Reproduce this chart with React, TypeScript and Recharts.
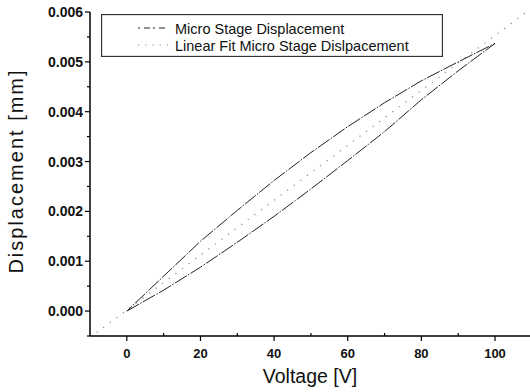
import React from 'react';
import { LineChart, Line, XAxis, YAxis } from 'recharts';

// voltage steps of the hysteresis loop (V)
const voltageUp = [0, 10, 20, 30, 40, 50, 60, 70, 80, 90, 100];
const voltageDown = [100, 90, 80, 70, 60, 50, 40, 30, 20, 10, 0];
// displacement (mm) while voltage rises (lower branch)
const dispUp = [0, 0.00042, 0.00088, 0.00138, 0.0019, 0.00245, 0.00302, 0.0036, 0.00424, 0.00482, 0.00537];
// displacement (mm) while voltage falls (upper branch)
const dispDown = [0.00537, 0.005, 0.00462, 0.00418, 0.0037, 0.00318, 0.00262, 0.00202, 0.0014, 0.0007, 0];

// linear fit end points
const fitVoltage = [-10, 110];
const fitDisp = [-0.00053, 0.00608];

const xTicks = [0, 10, 20, 30, 40, 50, 60, 70, 80, 90, 100];
const xLabelled = [0, 20, 40, 60, 80, 100];
const yTicks = [-0.0005, 0, 0.0005, 0.001, 0.0015, 0.002, 0.0025, 0.003, 0.0035, 0.004, 0.0045, 0.005, 0.0055, 0.006];
const yLabelled = [0, 0.001, 0.002, 0.003, 0.004, 0.005, 0.006];

const loopData = [
  ...voltageUp.map((v, i) => ({ v, d: dispUp[i] })),
  ...voltageDown.map((v, i) => ({ v, d: dispDown[i] })),
];
const fitData = fitVoltage.map((v, i) => ({ v, d: fitDisp[i] }));

const FONT = '"Liberation Sans", Arial, sans-serif';

const XTick = (props: any) => {
  const { x, y, payload } = props;
  const major = xLabelled.includes(payload.value);
  return (
    <g>
      <line x1={x} x2={x} y1={y} y2={major ? y + 5 : y - 3} stroke="#000" strokeWidth={1.2} />
      {major && (
        <text x={x} y={y + 22} textAnchor="middle" fontSize={13} fontWeight="bold" fontFamily={FONT} fill="#111">
          {payload.value}
        </text>
      )}
    </g>
  );
};

const YTick = (props: any) => {
  const { x, y, payload } = props;
  const major = yLabelled.some((t) => Math.abs(t - payload.value) < 1e-9);
  return (
    <g>
      <line x1={x} x2={x - (major ? 5 : 3)} y1={y} y2={y} stroke="#000" strokeWidth={1.2} />
      {major && (
        <text x={x - 7} y={y} dy="0.36em" textAnchor="end" fontSize={14} fontWeight="bold" fontFamily={FONT} fill="#111">
          {payload.value.toFixed(3)}
        </text>
      )}
    </g>
  );
};

function LegendBox() {
  return (
    <svg width={342} height={43} style={{ position: 'absolute', left: 101, top: 14, display: 'block' }}>
      <rect x={0.5} y={0.5} width={341} height={42} fill="#fff" stroke="#333" strokeWidth={1.3} />
      <line x1={37} x2={67} y1={14} y2={14} stroke="#222" strokeWidth={1} strokeDasharray="2 4 6 3" />
      <text x={74} y={20} fontSize={14.5} fontFamily={FONT} fill="#111">Micro Stage Displacement</text>
      <line x1={37} x2={67} y1={31} y2={31} stroke="#888" strokeWidth={1.2} strokeDasharray="1.2 6" />
      <text x={74} y={36.5} fontSize={14.5} fontFamily={FONT} fill="#111">Linear Fit Micro Stage Dislpacement</text>
    </svg>
  );
}

export default function App() {
  return (
    <div style={{ position: 'absolute', left: 0, top: 0, width: 530, height: 392, background: '#fff' }}>
      <LineChart width={530} height={392} margin={{ top: 12, right: 0, bottom: 0, left: 0 }}>
        <XAxis
          dataKey="v"
          type="number"
          domain={[-10, 109.5]}
          allowDataOverflow
          ticks={xTicks}
          interval={0}
          height={56}
          tickSize={0}
          tickMargin={0}
          tickLine={false}
          tick={<XTick />}
          axisLine={{ stroke: '#000', strokeWidth: 1.5 }}
          label={{
            content: () => (
              <text x={310} y={383} textAnchor="middle" fontSize={19.5} fontFamily={FONT} fill="#111">
                Voltage [V]
              </text>
            ),
          }}
        />
        <YAxis
          dataKey="d"
          type="number"
          domain={[-0.0005, 0.006]}
          allowDataOverflow
          ticks={yTicks}
          interval={0}
          width={90}
          tickSize={0}
          tickMargin={0}
          tickLine={false}
          tick={<YTick />}
          axisLine={{ stroke: '#000', strokeWidth: 1.5 }}
          label={{
            content: () => (
              <text
                x={23}
                y={171}
                transform="rotate(-90, 23, 171)"
                textAnchor="middle"
                fontSize={20}
                letterSpacing={2}
                fontFamily={FONT}
                fill="#111"
              >
                Displacement [mm]
              </text>
            ),
          }}
        />
        <Line
          data={fitData}
          dataKey="d"
          type="linear"
          stroke="#888"
          strokeWidth={1.2}
          strokeDasharray="1.2 7"
          dot={false}
          isAnimationActive={false}
        />
        <Line
          data={loopData}
          dataKey="d"
          type="linear"
          stroke="#222"
          strokeWidth={1}
          strokeDasharray="14 1.5 1.5 1.5"
          dot={false}
          isAnimationActive={false}
        />
      </LineChart>
      <LegendBox />
    </div>
  );
}
